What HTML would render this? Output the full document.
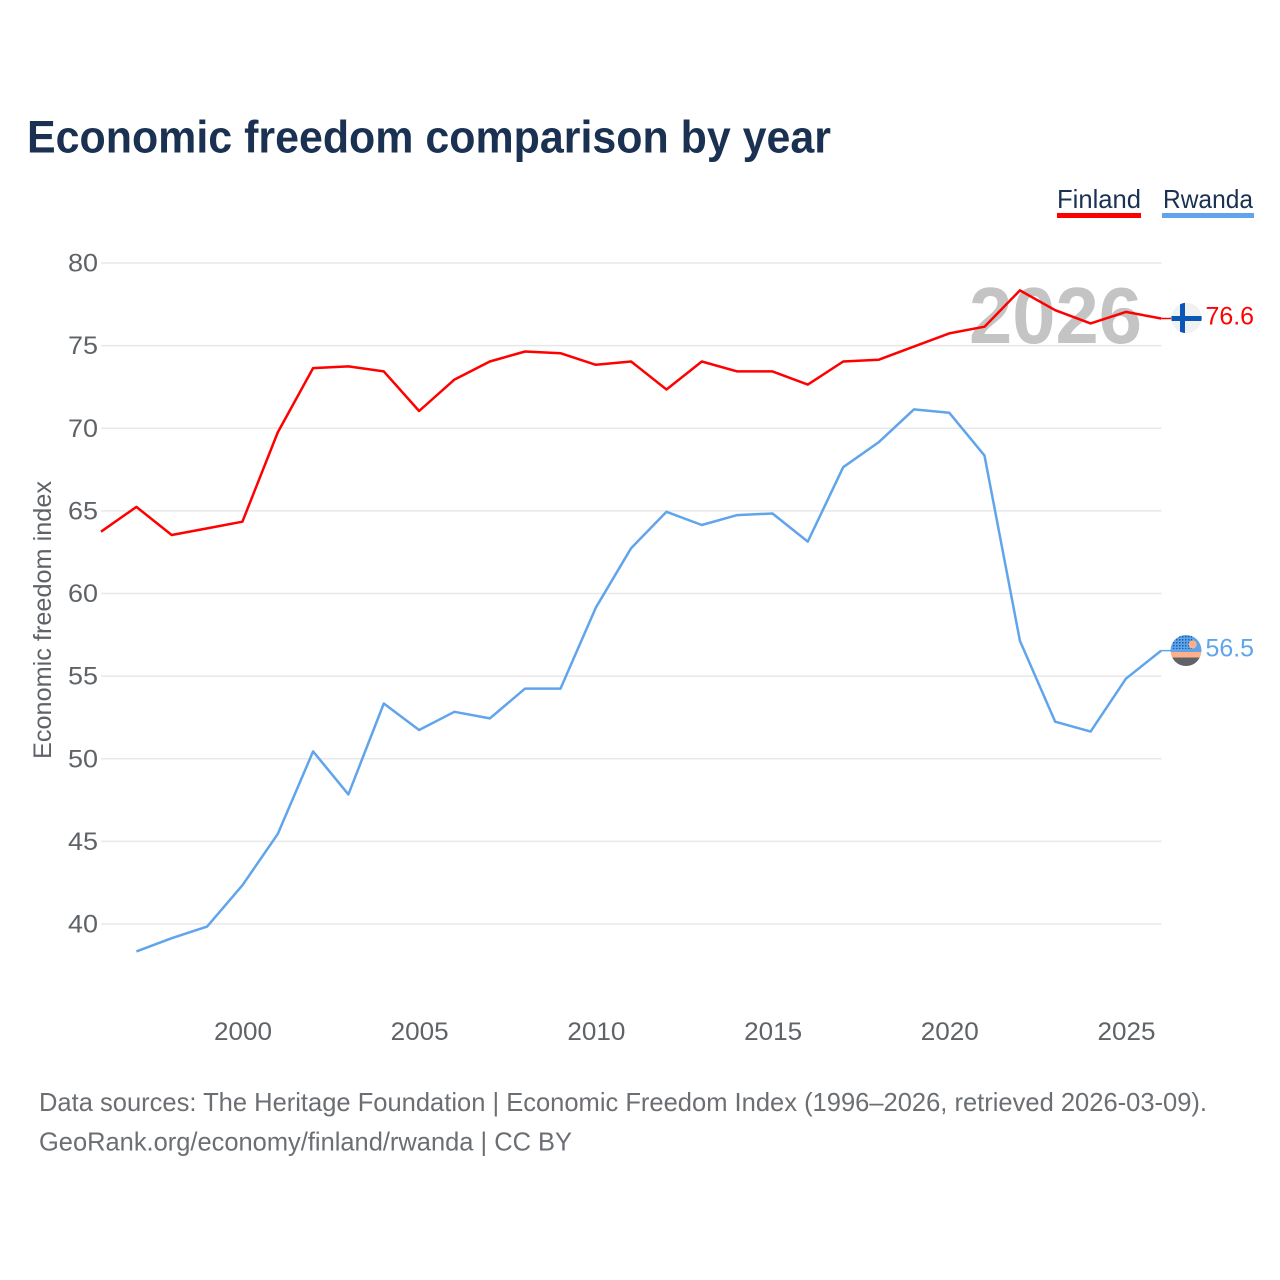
<!DOCTYPE html>
<html lang="en">
<head>
<meta charset="utf-8">
<title>Economic freedom comparison by year</title>
<style>
html,body{margin:0;padding:0;background:#fff}
svg{display:block}
text{font-family:"Liberation Sans",sans-serif}
</style>
</head>
<body>
<svg id="chart" width="1280" height="1280" viewBox="0 0 1280 1280" xmlns="http://www.w3.org/2000/svg">
  <defs>
    <clipPath id="fi-clip"><circle cx="1186.5" cy="318" r="15.2"/></clipPath>
    <clipPath id="rw-clip"><circle cx="1186" cy="650.5" r="15.5"/></clipPath>
    <pattern id="rw-dots" width="3" height="3" patternUnits="userSpaceOnUse"><rect x="0" y="0" width="1.5" height="1.5" fill="#1a5fb0"/></pattern>
  </defs>
  <rect width="1280" height="1280" fill="#fff"/>
  <text x="27" y="152.5" font-size="45" font-weight="700" fill="#1a3152" textLength="804" lengthAdjust="spacingAndGlyphs">Economic freedom comparison by year</text>

  <g>
    <g>
      <text x="1057" y="208" font-size="26" fill="#1a3152" textLength="84" lengthAdjust="spacingAndGlyphs">Finland</text>
      <rect x="1057" y="213" width="84" height="5" fill="#ff0000"/>
    </g>
    <g>
      <text x="1163" y="208" font-size="26" fill="#1a3152" textLength="90" lengthAdjust="spacingAndGlyphs">Rwanda</text>
      <rect x="1162" y="213" width="92" height="5" fill="#60a5ec"/>
    </g>
  </g>

  <g id="grid"></g>
  <g id="y-ticks"></g>
  <g id="x-ticks"></g>
  <text transform="translate(51,759) rotate(-90)" font-size="25" fill="#5f6368" textLength="278" lengthAdjust="spacingAndGlyphs">Economic freedom index</text>

  <text x="969" y="343" font-size="80" font-weight="700" fill="#c4c4c4" textLength="173" lengthAdjust="spacingAndGlyphs">2026</text>

  <g id="series"></g>

  <g clip-path="url(#fi-clip)">
    <rect x="1171" y="302" width="32" height="32" fill="#f0f2f2"/>
    <rect x="1171" y="316" width="32" height="5" fill="#0b57b5"/>
    <rect x="1180" y="302" width="5" height="32" fill="#0b57b5"/>
  </g>
  <text x="1205.5" y="324.5" font-size="25" fill="#ff0000" textLength="48.5" lengthAdjust="spacingAndGlyphs">76.6</text>

  <g clip-path="url(#rw-clip)">
    <rect x="1170" y="635" width="32" height="17" fill="#5fa3e8"/>
    <rect x="1172" y="636" width="20" height="13" fill="url(#rw-dots)"/>
    <circle cx="1192.7" cy="644.5" r="4" fill="#ffb08a"/>
    <rect x="1170" y="652" width="32" height="5.5" fill="#ffb08a"/>
    <rect x="1170" y="657.5" width="32" height="9" fill="#5f6368"/>
  </g>
  <text x="1205.5" y="656.5" font-size="25" fill="#60a5ec" textLength="48.5" lengthAdjust="spacingAndGlyphs">56.5</text>

  <text x="39" y="1111" font-size="26" fill="#6b6f73" textLength="1168" lengthAdjust="spacingAndGlyphs">Data sources: The Heritage Foundation | Economic Freedom Index (1996–2026, retrieved 2026-03-09).</text>
  <text x="39" y="1150.5" font-size="26" fill="#6b6f73" textLength="533" lengthAdjust="spacingAndGlyphs">GeoRank.org/economy/finland/rwanda | CC BY</text>
</svg>
<script>
const years = [1996,1997,1998,1999,2000,2001,2002,2003,2004,2005,2006,2007,2008,2009,2010,2011,2012,2013,2014,2015,2016,2017,2018,2019,2020,2021,2022,2023,2024,2025,2026];
const finlandValues = [63.7,65.2,63.5,63.9,64.3,69.7,73.6,73.7,73.4,71.0,72.9,74.0,74.6,74.5,73.8,74.0,72.3,74.0,73.4,73.4,72.6,74.0,74.1,74.9,75.7,76.1,78.3,77.1,76.3,77.0,76.6];
const rwandaValues = [null,38.3,39.1,39.8,42.3,45.4,50.4,47.8,53.3,51.7,52.8,52.4,54.2,54.2,59.1,62.7,64.9,64.1,64.7,64.8,63.1,67.6,69.1,71.1,70.9,68.3,57.1,52.2,51.6,54.8,56.5];
const yTickValues = [40,45,50,55,60,65,70,75,80];
const xTickValues = [2000,2005,2010,2015,2020,2025];

const NS = 'http://www.w3.org/2000/svg';
function xScale(year){ return 242.4 + (year - 2000) * 35.34; }
function yScale(value){ return 924 - (value - 40) * 16.525; }
function lineY(value){ return yScale(value) - 0.7; }

function makeText(label, x, y, anchor, length){
  const t = document.createElementNS(NS, 'text');
  t.setAttribute('x', x);
  t.setAttribute('y', y);
  t.setAttribute('font-size', '25');
  t.setAttribute('fill', '#5f6368');
  t.setAttribute('text-anchor', anchor);
  t.setAttribute('textLength', length);
  t.setAttribute('lengthAdjust', 'spacingAndGlyphs');
  t.textContent = label;
  return t;
}

const gridGroup = document.getElementById('grid');
const yTickGroup = document.getElementById('y-ticks');
yTickValues.forEach(function(v){
  const line = document.createElementNS(NS, 'line');
  
  
  line.setAttribute('x1', 101);
  line.setAttribute('x2', 1161.5);
  line.setAttribute('y1', yScale(v));
  line.setAttribute('y2', yScale(v));
  line.setAttribute('stroke', '#e8e8ea');
  line.setAttribute('stroke-width', '1.5');
  gridGroup.appendChild(line);
  const label = makeText(String(v), 98, yScale(v) + 8.5, 'end', 30);
  
  
  yTickGroup.appendChild(label);
});

const xTickGroup = document.getElementById('x-ticks');
xTickValues.forEach(function(y){
  const label = makeText(String(y), xScale(y) + 0.6, 1040, 'middle', 58);
  
  
  xTickGroup.appendChild(label);
});

function linePoints(values){
  const pts = [];
  values.forEach(function(v, i){
    if (v !== null) pts.push(xScale(years[i]).toFixed(1) + ',' + lineY(v).toFixed(1));
  });
  return pts.join(' ');
}

const seriesGroup = document.getElementById('series');

const finlandLine = document.createElementNS(NS, 'polyline');


finlandLine.setAttribute('points', linePoints(finlandValues));
finlandLine.setAttribute('fill', 'none');
finlandLine.setAttribute('stroke', '#ff0000');
finlandLine.setAttribute('stroke-width', '2.5');
finlandLine.setAttribute('stroke-linejoin', 'round');
seriesGroup.appendChild(finlandLine);

const rwandaLine = document.createElementNS(NS, 'polyline');


rwandaLine.setAttribute('points', linePoints(rwandaValues));
rwandaLine.setAttribute('fill', 'none');
rwandaLine.setAttribute('stroke', '#60a5ec');
rwandaLine.setAttribute('stroke-width', '2.5');
rwandaLine.setAttribute('stroke-linejoin', 'round');
seriesGroup.appendChild(rwandaLine);

const finlandConnector = document.createElementNS(NS, 'line');


finlandConnector.setAttribute('x1', xScale(2026));
finlandConnector.setAttribute('x2', 1171);
finlandConnector.setAttribute('y1', lineY(finlandValues[30]));
finlandConnector.setAttribute('y2', lineY(finlandValues[30]));
finlandConnector.setAttribute('stroke', '#ff0000');
finlandConnector.setAttribute('stroke-width', '1.5');
seriesGroup.appendChild(finlandConnector);

const rwandaConnector = document.createElementNS(NS, 'line');


rwandaConnector.setAttribute('x1', xScale(2026));
rwandaConnector.setAttribute('x2', 1171);
rwandaConnector.setAttribute('y1', lineY(rwandaValues[30]));
rwandaConnector.setAttribute('y2', lineY(rwandaValues[30]));
rwandaConnector.setAttribute('stroke', '#60a5ec');
rwandaConnector.setAttribute('stroke-width', '1.5');
seriesGroup.appendChild(rwandaConnector);
</script>
</body>
</html>
